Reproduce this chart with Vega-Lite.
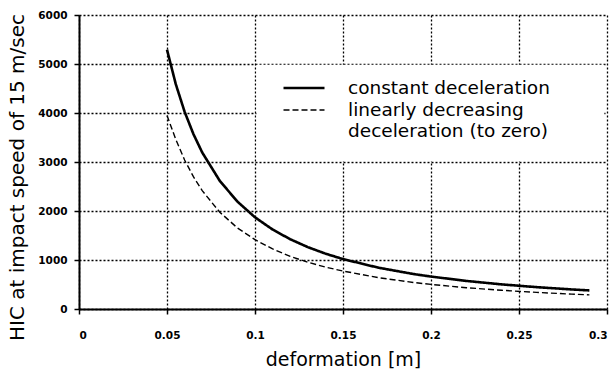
{
  "$schema": "https://vega.github.io/schema/vega-lite/v6.json",
  "width": 528,
  "height": 294,
  "autosize": {"type": "none"},
  "padding": {"left": 79, "top": 15, "right": 9, "bottom": 62},
  "background": "white",
  "config": {
    "view": {"stroke": null},
    "font": "DejaVu Sans"
  },
  "layer": [
    {
      "data": {"values": [{}]},
      "mark": {"type": "rect", "fill": "white", "stroke": null},
      "encoding": {
        "x": {"datum": 0.1008, "type": "quantitative"},
        "x2": {"datum": 0.2985},
        "y": {"datum": 4985, "type": "quantitative"},
        "y2": {"datum": 3015}
      }
    },
    {
      "data": {
        "values": [
          {"d": 0.05, "hic": 5293, "type": "constant deceleration"},
          {"d": 0.055, "hic": 4588, "type": "constant deceleration"},
          {"d": 0.06, "hic": 4026, "type": "constant deceleration"},
          {"d": 0.065, "hic": 3571, "type": "constant deceleration"},
          {"d": 0.07, "hic": 3195, "type": "constant deceleration"},
          {"d": 0.08, "hic": 2615, "type": "constant deceleration"},
          {"d": 0.09, "hic": 2192, "type": "constant deceleration"},
          {"d": 0.1, "hic": 1871, "type": "constant deceleration"},
          {"d": 0.11, "hic": 1622, "type": "constant deceleration"},
          {"d": 0.12, "hic": 1424, "type": "constant deceleration"},
          {"d": 0.13, "hic": 1263, "type": "constant deceleration"},
          {"d": 0.14, "hic": 1130, "type": "constant deceleration"},
          {"d": 0.15, "hic": 1019, "type": "constant deceleration"},
          {"d": 0.17, "hic": 844, "type": "constant deceleration"},
          {"d": 0.19, "hic": 714, "type": "constant deceleration"},
          {"d": 0.2, "hic": 662, "type": "constant deceleration"},
          {"d": 0.22, "hic": 573, "type": "constant deceleration"},
          {"d": 0.24, "hic": 503, "type": "constant deceleration"},
          {"d": 0.26, "hic": 446, "type": "constant deceleration"},
          {"d": 0.28, "hic": 399, "type": "constant deceleration"},
          {"d": 0.29, "hic": 379, "type": "constant deceleration"},
          {"d": 0.05, "hic": 3950, "type": "linearly decreasing deceleration (to zero)"},
          {"d": 0.055, "hic": 3460, "type": "linearly decreasing deceleration (to zero)"},
          {"d": 0.06, "hic": 3040, "type": "linearly decreasing deceleration (to zero)"},
          {"d": 0.065, "hic": 2700, "type": "linearly decreasing deceleration (to zero)"},
          {"d": 0.07, "hic": 2415, "type": "linearly decreasing deceleration (to zero)"},
          {"d": 0.08, "hic": 1975, "type": "linearly decreasing deceleration (to zero)"},
          {"d": 0.09, "hic": 1655, "type": "linearly decreasing deceleration (to zero)"},
          {"d": 0.1, "hic": 1415, "type": "linearly decreasing deceleration (to zero)"},
          {"d": 0.11, "hic": 1225, "type": "linearly decreasing deceleration (to zero)"},
          {"d": 0.12, "hic": 1075, "type": "linearly decreasing deceleration (to zero)"},
          {"d": 0.13, "hic": 955, "type": "linearly decreasing deceleration (to zero)"},
          {"d": 0.14, "hic": 855, "type": "linearly decreasing deceleration (to zero)"},
          {"d": 0.15, "hic": 775, "type": "linearly decreasing deceleration (to zero)"},
          {"d": 0.17, "hic": 640, "type": "linearly decreasing deceleration (to zero)"},
          {"d": 0.19, "hic": 542, "type": "linearly decreasing deceleration (to zero)"},
          {"d": 0.2, "hic": 502, "type": "linearly decreasing deceleration (to zero)"},
          {"d": 0.22, "hic": 435, "type": "linearly decreasing deceleration (to zero)"},
          {"d": 0.24, "hic": 382, "type": "linearly decreasing deceleration (to zero)"},
          {"d": 0.26, "hic": 339, "type": "linearly decreasing deceleration (to zero)"},
          {"d": 0.28, "hic": 303, "type": "linearly decreasing deceleration (to zero)"},
          {"d": 0.29, "hic": 288, "type": "linearly decreasing deceleration (to zero)"}
        ]
      },
      "mark": {"type": "line", "color": "black", "strokeCap": "butt"},
      "encoding": {
        "x": {
          "field": "d",
          "type": "quantitative",
          "scale": {"domain": [0, 0.3], "nice": false, "zero": false},
          "axis": {
            "title": "deformation [m]",
            "values": [0, 0.05, 0.1, 0.15, 0.2, 0.25, 0.3],
            "format": "~g",
            "grid": true,
            "gridColor": "black",
            "gridDash": [2, 2],
            "gridWidth": 1.3,
            "gridOpacity": 1,
            "domainColor": "black",
            "domainWidth": 2,
            "tickColor": "black",
            "tickSize": 5,
            "tickWidth": 1.5,
            "labelFont": "DejaVu Sans",
            "labelFontWeight": "bold",
            "labelFontSize": 10.5,
            "labelColor": "black",
            "labelPadding": 16,
            "titleFont": "DejaVu Sans",
            "titleFontWeight": "normal",
            "titleFontSize": 19,
            "titleColor": "black",
            "titlePadding": 10
          }
        },
        "y": {
          "field": "hic",
          "type": "quantitative",
          "scale": {"domain": [0, 6000], "nice": false},
          "axis": {
            "title": "HIC at impact speed of 15 m/sec",
            "values": [0, 1000, 2000, 3000, 4000, 5000, 6000],
            "format": "d",
            "grid": true,
            "gridColor": "black",
            "gridDash": [2, 2],
            "gridWidth": 1.3,
            "gridOpacity": 1,
            "domainColor": "black",
            "domainWidth": 2,
            "tickColor": "black",
            "tickSize": 5,
            "tickWidth": 1.5,
            "labelFont": "DejaVu Sans",
            "labelFontWeight": "bold",
            "labelFontSize": 10.5,
            "labelColor": "black",
            "labelPadding": 7,
            "titleFont": "DejaVu Sans",
            "titleFontWeight": "normal",
            "titleFontSize": 20,
            "titleColor": "black",
            "titlePadding": 10,
            "titleY": 162
          }
        },
        "strokeDash": {
          "field": "type",
          "type": "nominal",
          "scale": {
            "domain": ["constant deceleration", "linearly decreasing deceleration (to zero)"],
            "range": [[1, 0], [6, 3]]
          },
          "legend": {
            "title": null,
            "orient": "none",
            "legendX": 195,
            "legendY": 54,
            "padding": 8,
            "symbolType": "stroke",
            "symbolSize": 1681,
            "symbolStrokeColor": "black",
            "symbolStrokeWidth": 1.8,
            "labelOffset": 22,
            "labelFont": "DejaVu Sans",
            "labelFontSize": 18.5,
            "labelColor": "black",
            "labelLimit": 400,
            "clipHeight": 22,
            "rowPadding": 0,
            "labelExpr": "datum.label == 'linearly decreasing deceleration (to zero)' ? ['linearly decreasing', 'deceleration (to zero)'] : datum.label"
          }
        },
        "strokeWidth": {
          "field": "type",
          "type": "nominal",
          "scale": {
            "domain": ["constant deceleration", "linearly decreasing deceleration (to zero)"],
            "range": [2.6, 1.4]
          },
          "legend": null
        }
      }
    }
  ]
}
